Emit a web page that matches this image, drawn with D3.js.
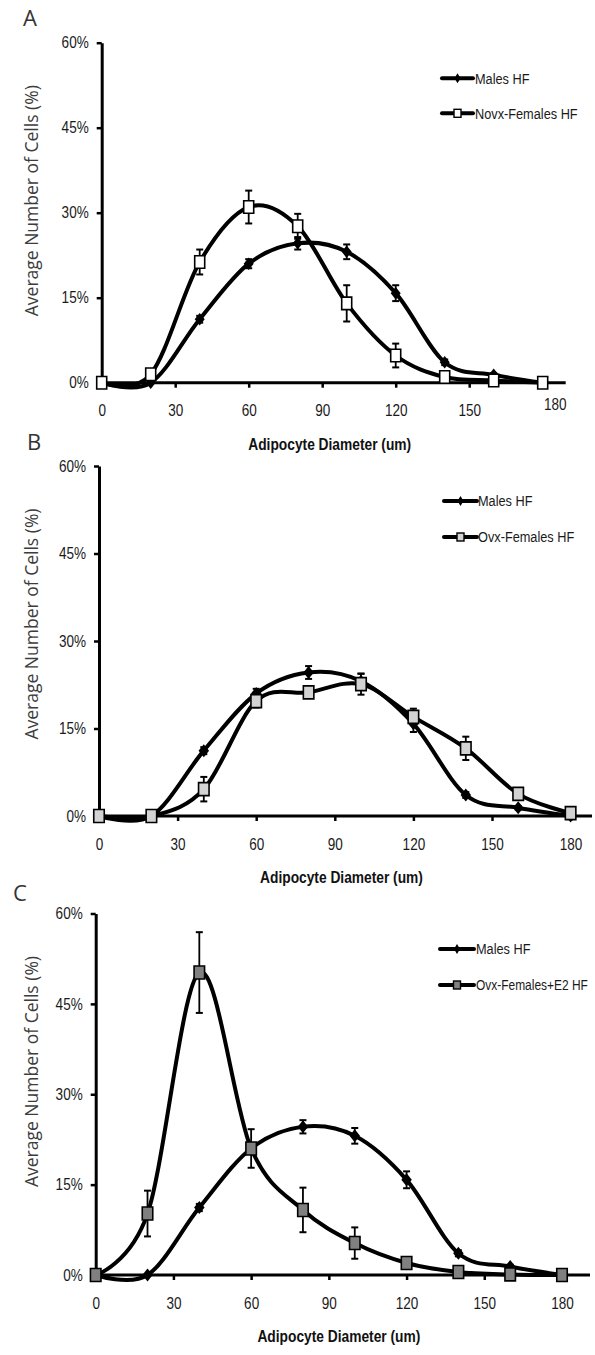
<!DOCTYPE html>
<html>
<head>
<meta charset="utf-8">
<script src="https://cdn.jsdelivr.net/npm/d3@7"></script>
<style>
  body { margin: 0; background: #fff; }
  svg { display: block; }
</style>
</head>
<body>
<svg id="fig" width="595" height="1355"></svg>
<script>
// diameter bins (um) and tick values
const diameters = [0, 20, 40, 60, 80, 100, 120, 140, 160, 180];
const xTicks = [0, 30, 60, 90, 120, 150, 180];
const yTicks = [0, 15, 30, 45, 60];

// average number of cells (%) and error bars
const malesHF   = [0, 0, 11.2, 21.0, 24.6, 23.1, 15.8, 3.6, 1.4, 0];
const malesErr  = [0, 0, 0.6, 0.8, 1.1, 1.3, 1.4, 0.5, 0.3, 0];
const novxHF    = [0, 1.5, 21.3, 31.0, 27.6, 14.0, 4.8, 1.0, 0.4, 0];
const novxErr   = [0, 0, 2.2, 2.9, 2.2, 3.2, 2.1, 0, 0, 0];
const ovxHF     = [0, 0, 4.6, 19.7, 21.2, 22.6, 17.0, 11.6, 3.8, 0.5];
const ovxErr    = [0, 0, 2.1, 1.1, 0.8, 1.8, 1.4, 2.0, 0.8, 0];
const ovxE2HF   = [0, 10.2, 50.2, 21.0, 10.8, 5.3, 2.0, 0.5, 0.1, 0];
const ovxE2Err  = [0, 3.8, 6.7, 3.2, 3.7, 2.6, 0, 0, 0, 0];

const panelLetters = ["A", "B", "C"];
const legendNames = ["Males HF", "Novx-Females HF", "Ovx-Females HF", "Ovx-Females+E2 HF"];
const xTitle = "Adipocyte Diameter (um)";
const yTitle = "Average Number of Cells (%)";

var svg = d3.select("#fig");
var sans = "'Liberation Sans', Arial, sans-serif";

// no narrow font installed: squeeze regular Liberation Sans horizontally
function condense(sel, f) {
  sel.each(function() {
    var w = this.getComputedTextLength() * f;
    d3.select(this).attr("textLength", w).attr("lengthAdjust", "spacingAndGlyphs");
  });
}

// layout of each panel
var panels = [
  { letter: panelLetters[0], lx: 23, ly: 26,
    x0: 101.7, x1: 542.7, xEnd: 565.7, y0: 382.7, y1: 42.7,
    female: novxHF, femaleErr: novxErr, name: legendNames[1], fill: "#ffffff",
    mw: 10, mh: 12.5, legX: 442, legX2: 473, legT: 475, legY: [78.3, 113.3] },
  { letter: panelLetters[1], lx: 27, ly: 450,
    x0: 99, x1: 570.6, xEnd: 592, y0: 816, y1: 466,
    female: ovxHF, femaleErr: ovxErr, name: legendNames[2], fill: "#d3d3d3",
    mw: 10.5, mh: 13, legX: 444, legX2: 477, legT: 478, legY: [501, 537] },
  { letter: panelLetters[2], lx: 13, ly: 901,
    x0: 95.7, x1: 562, xEnd: 590, y0: 1275, y1: 913.5,
    female: ovxE2HF, femaleErr: ovxE2Err, name: legendNames[3], fill: "#808080",
    mw: 10.5, mh: 13, legX: 440, legX2: 474, legT: 476, legY: [949, 985] }
];

function diamond(w, h) {
  return "M0," + (-h / 2) + "L" + (w / 2) + ",0L0," + (h / 2) + "L" + (-w / 2) + ",0Z";
}

panels.forEach(function(p, pi) {
  var g = svg.append("g");
  var x = d3.scaleLinear().domain([0, 180]).range([p.x0, p.x1]);
  var y = d3.scaleLinear().domain([0, 60]).range([p.y0, p.y1]);

  // panel letter
  g.append("text")
    .attr("x", p.lx).attr("y", p.ly)
    .attr("font-family", "'Open Sans', sans-serif")
    .attr("font-size", 22)
    .attr("fill", "#333")
    .text(p.letter);

  // y axis
  var yAxis = g.append("g")
    .attr("transform", "translate(" + p.x0 + ",0)")
    .call(d3.axisLeft(y).tickValues(yTicks).tickFormat(d => d + "%")
      .tickSize(5).tickSizeOuter(0).tickPadding(8));
  yAxis.select(".domain").attr("stroke", "#000").attr("stroke-width", 3);
  yAxis.selectAll(".tick line").attr("stroke", "#000").attr("stroke-width", 2.5);
  yAxis.selectAll(".tick text")
    .attr("font-family", sans).attr("font-size", 16.5).attr("fill", "#1a1a1a")
    .call(condense, 0.82);

  // x axis line + ticks
  g.append("line")
    .attr("x1", p.x0 - 1.5).attr("x2", p.xEnd)
    .attr("y1", p.y0).attr("y2", p.y0)
    .attr("stroke", "#000").attr("stroke-width", 3);
  var xAxis = g.append("g")
    .attr("transform", "translate(0," + p.y0 + ")")
    .call(d3.axisBottom(x).tickValues(xTicks).tickSize(5).tickSizeOuter(0).tickPadding(17));
  xAxis.select(".domain").remove();
  xAxis.selectAll(".tick line").attr("stroke", "#000").attr("stroke-width", 2.5)
    .filter(d => d === 0).remove();
  xAxis.selectAll(".tick text")
    .attr("font-family", sans).attr("font-size", 16.5).attr("fill", "#1a1a1a")
    .call(condense, 0.82);
  if (pi === 0) {
    // the 180 label sits a little off in panel A
    xAxis.selectAll(".tick text").filter(d => d === 180)
      .attr("dx", 12).attr("dy", "0.3em");
  }

  // axis titles
  g.append("text")
    .attr("x", (p.x0 + p.xEnd) / 2 - 4).attr("y", p.y0 + 67)
    .attr("text-anchor", "middle")
    .attr("font-family", sans).attr("font-weight", "bold")
    .attr("font-size", 16).attr("fill", "#111")
    .text(xTitle)
    .call(condense, 0.86);
  g.append("text")
    .attr("transform", "translate(" + 38 + "," + (p.y1 + 158) + ") rotate(-90)")
    .attr("text-anchor", "middle")
    .attr("font-family", "'Open Sans', sans-serif")
    .attr("font-size", 17.5).attr("fill", "#3c3c3c")
    .text(yTitle);

  var line = d3.line()
    .x((d, i) => x(diameters[i]))
    .y(d => y(d))
    .curve(d3.curveCardinal.tension(0));

  var series = [
    { vals: malesHF, err: malesErr, shape: "diamond", fill: "#000" },
    { vals: p.female, err: p.femaleErr, shape: "square", fill: p.fill }
  ];

  series.forEach(function(s) {
    var sg = g.append("g");
    sg.append("path")
      .attr("d", line(s.vals))
      .attr("fill", "none")
      .attr("stroke", "#000")
      .attr("stroke-width", 4)
      .attr("stroke-linejoin", "round");

    var eb = sg.append("g").selectAll("g")
      .data(s.vals.map((v, i) => ({ d: diameters[i], v: v, e: s.err[i] })).filter(o => o.e > 0))
      .enter().append("g");
    eb.append("line")
      .attr("x1", o => x(o.d)).attr("x2", o => x(o.d))
      .attr("y1", o => y(o.v - o.e)).attr("y2", o => y(o.v + o.e))
      .attr("stroke", "#000").attr("stroke-width", 1.8);
    [-1, 1].forEach(function(sign) {
      eb.append("line")
        .attr("x1", o => x(o.d) - 3.5).attr("x2", o => x(o.d) + 3.5)
        .attr("y1", o => y(o.v + sign * o.e)).attr("y2", o => y(o.v + sign * o.e))
        .attr("stroke", "#000").attr("stroke-width", 2);
    });

    var mk = sg.append("g").selectAll("path")
      .data(s.vals)
      .enter().append("path")
      .attr("transform", (d, i) => "translate(" + x(diameters[i]) + "," + y(d) + ")");
    if (s.shape === "diamond") {
      mk.attr("d", diamond(p.mw, p.mh)).attr("fill", "#000");
    } else {
      mk.attr("d", "M" + (-p.mw / 2) + "," + (-p.mh / 2) + "h" + p.mw + "v" + p.mh + "h" + (-p.mw) + "Z")
        .attr("fill", s.fill).attr("stroke", "#000").attr("stroke-width", 1.6);
    }
  });

  // legend
  var names = [legendNames[0], p.name];
  names.forEach(function(n, k) {
    var ly = p.legY[k];
    var lg = g.append("g");
    lg.append("line")
      .attr("x1", p.legX).attr("x2", p.legX2)
      .attr("y1", ly).attr("y2", ly)
      .attr("stroke", "#000").attr("stroke-width", 4)
      .attr("stroke-linecap", "round");
    var cx = (p.legX + p.legX2) / 2;
    if (k === 0) {
      lg.append("path").attr("d", diamond(6, 10))
        .attr("transform", "translate(" + cx + "," + ly + ")").attr("fill", "#000");
    } else {
      lg.append("rect")
        .attr("x", cx - 3.5).attr("y", ly - 4).attr("width", 7).attr("height", 8)
        .attr("fill", p.fill).attr("stroke", "#000").attr("stroke-width", 1.4);
    }
    // squeezed with a transform so the text box itself stays narrow
    var t = lg.append("text")
      .attr("x", 0).attr("y", 0).attr("dy", "0.35em")
      .attr("font-family", sans).attr("font-size", 15)
      .attr("fill", "#1a1a1a")
      .text(n);
    var sx = Math.min(0.85, 112 / t.node().getComputedTextLength());
    t.attr("transform", "translate(" + p.legT + "," + ly + ") scale(" + sx + ",1)");
  });
});
</script>
</body>
</html>
